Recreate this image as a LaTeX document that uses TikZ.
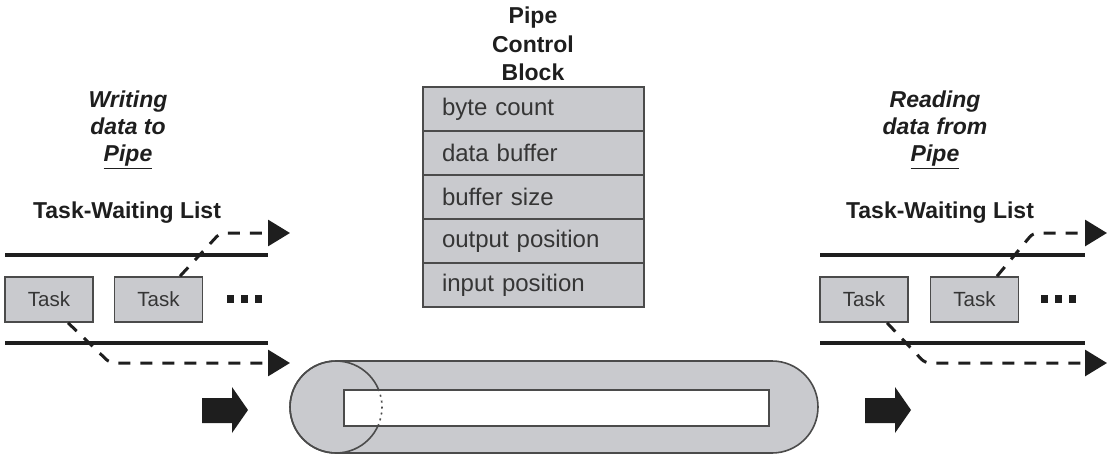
\documentclass[tikz,border=0pt]{standalone}
\usepackage{fontspec}
\setmainfont{Liberation Sans}
\usetikzlibrary{arrows.meta}
\definecolor{pipegray}{RGB}{201,202,206}
\definecolor{ink}{RGB}{30,30,30}
\begin{document}
\begin{tikzpicture}[x=1pt,y=-1pt,
  taskbox/.style={draw=ink!80, line width=1.6pt, fill=pipegray, minimum width=88pt, minimum height=45pt, inner sep=0pt, font=\fontsize{20.5}{24}\selectfont, text=ink!90},
  rowbox/.style={draw=ink!80, line width=1.6pt, fill=pipegray, text width=183pt, inner xsep=19pt, inner ysep=0pt, minimum height=44pt, align=left, font=\fontsize{24}{28}\selectfont, text=ink!90},
  heading/.style={font=\fontsize{23}{28.5}\selectfont\bfseries, align=center, text=ink},
  sidelabel/.style={font=\fontsize{23}{27}\selectfont\bfseries\itshape, align=center, text=ink},
  listline/.style={line width=4pt, draw=ink},
  dasharrow/.style={line width=3pt, draw=ink, dash pattern=on 12pt off 10pt, rounded corners=5pt, -{Triangle[length=22pt 0 0, width=26pt 0 0]}},
  bigarrow/.style={fill=ink, draw=none}
]
\useasboundingbox (0,0) rectangle (1111,456);

% ---------- Pipe Control Block ----------
\node[heading] (title) at (533,44) {Pipe\\Control\\Block};
\node[rowbox] (r1) at (533.5,109) {byte count};
\node[rowbox] (r2) at (533.5,153) {data buffer};
\node[rowbox] (r3) at (533.5,197) {buffer size};
\node[rowbox] (r4) at (533.5,241) {output position};
\node[rowbox] (r5) at (533.5,285) {input position};

% ---------- Left side: writing ----------
\node[sidelabel] (wlabel) at (128,130) {Writing\\data to\\\underline{Pipe}};
\node[heading] (wlist) at (127,213) {Task-Waiting List};
\draw[listline] (5,255) -- (268,255);
\draw[listline] (5,343) -- (268,343);
\node[taskbox] (wt1) at (49,299.5) {Task};
\node[taskbox] (wt2) at (158.5,299.5) {Task};
\foreach \xx in {227,241,255} \fill[ink] (\xx,295) rectangle ++(7,8);
\coordinate (wtop) at (290,233);
\coordinate (wbot) at (290,363);
\draw[dasharrow] ([xshift=21.5pt]wt2.north) -- (220,233) -- (wtop);
\draw[dasharrow] ([xshift=19pt]wt1.south) -- (110,363) -- (wbot);
\fill[bigarrow] (202,398) -- (232,398) -- (232,387) -- (248,410) -- (232,433) -- (232,423) -- (202,423) -- cycle;

% ---------- Right side: reading ----------
\node[sidelabel] (rlabel) at (935,130) {Reading\\data from\\\underline{Pipe}};
\node[heading] (rlist) at (940,213) {Task-Waiting List};
\draw[listline] (820,255) -- (1085,255);
\draw[listline] (820,343) -- (1085,343);
\node[taskbox] (rt1) at (864,299.5) {Task};
\node[taskbox] (rt2) at (974.5,299.5) {Task};
\foreach \xx in {1041,1055,1069} \fill[ink] (\xx,295) rectangle ++(7,8);
\coordinate (rtop) at (1107,233);
\coordinate (rbot) at (1107,363);
\draw[dasharrow] ([xshift=22.5pt]rt2.north) -- (1033,233) -- (rtop);
\draw[dasharrow] ([xshift=23pt]rt1.south) -- (925,363) -- (rbot);
\fill[bigarrow] (865,398) -- (895,398) -- (895,387) -- (911,410) -- (895,433) -- (895,423) -- (865,423) -- cycle;

% ---------- Pipe ----------
\draw[fill=pipegray, draw=ink!80, line width=1.6pt] (336,361) -- (772,361) arc (-90:90:46) -- (336,453) arc (90:270:46) -- cycle;
\draw[draw=ink!80, line width=1.6pt] (336,407) circle (46);
\draw[fill=white, draw=ink!80, line width=1.6pt] (344,390) rectangle (769,426);
\draw[draw=ink!80, line width=1.6pt, dash pattern=on 2pt off 4pt] (336,407) ++(-23:46) arc (-23:23:46);
\end{tikzpicture}
\end{document}
